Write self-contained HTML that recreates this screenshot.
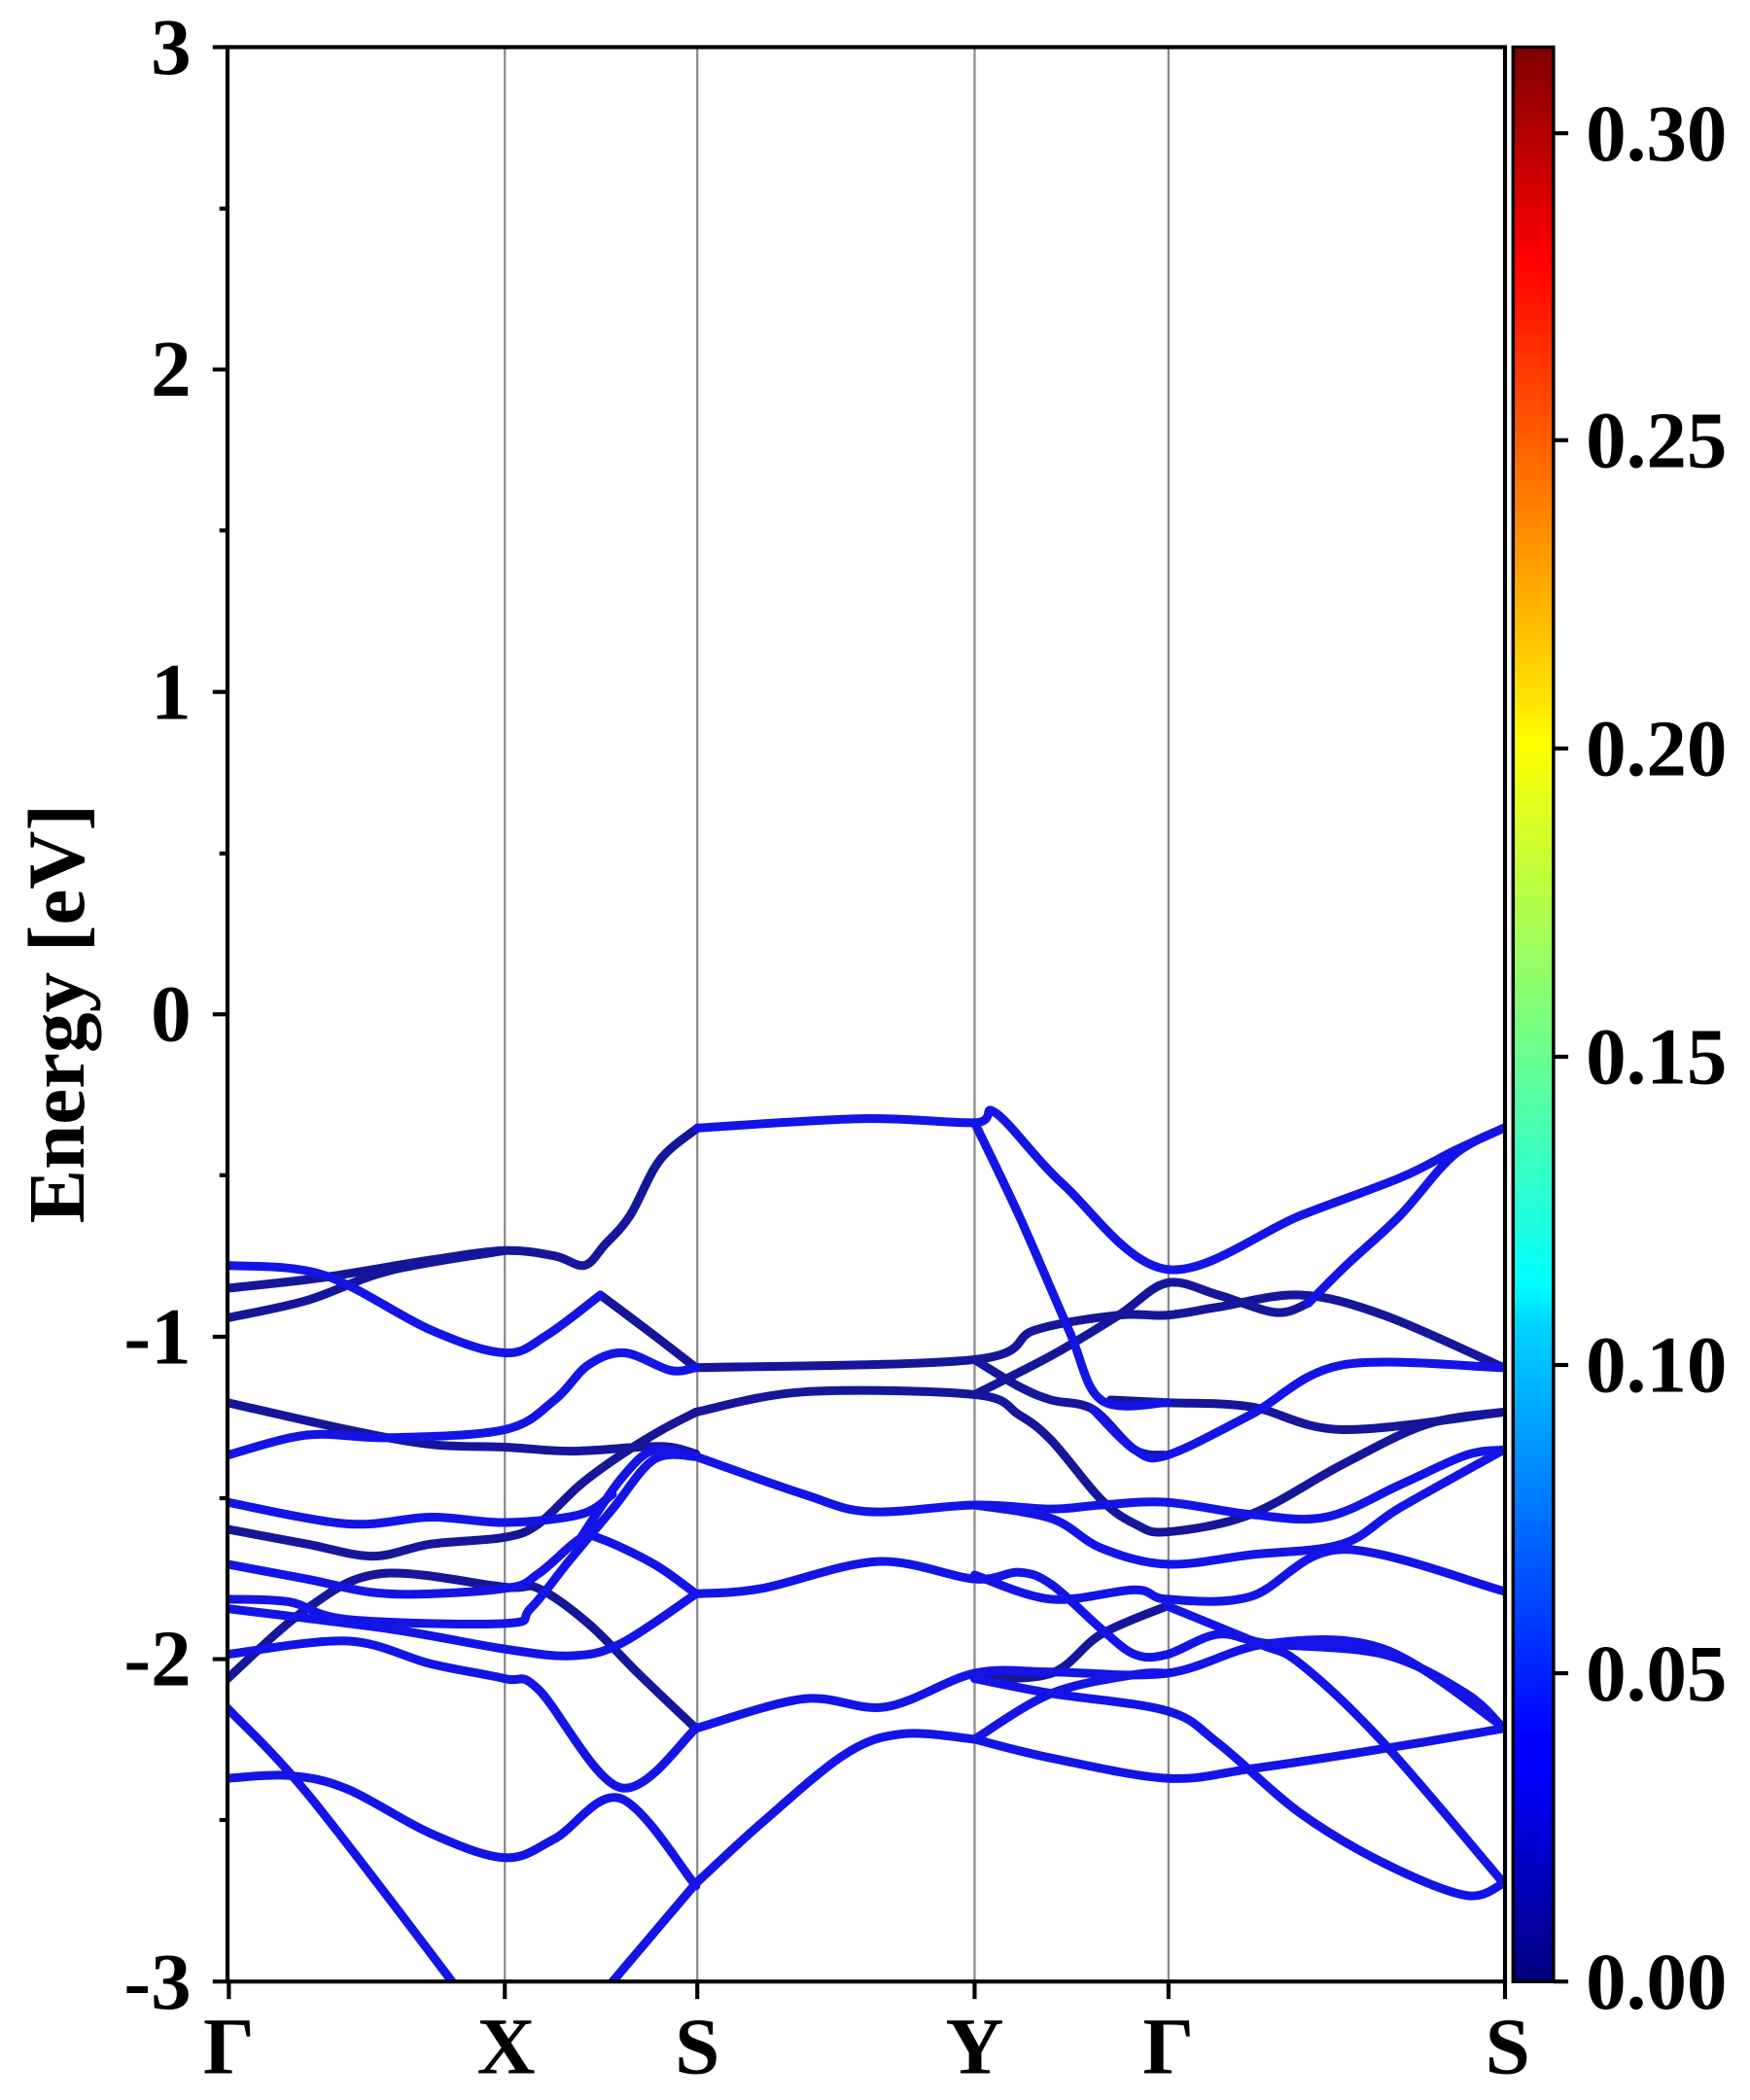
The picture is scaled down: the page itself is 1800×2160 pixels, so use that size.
<!DOCTYPE html>
<html><head><style>html,body{margin:0;padding:0;background:#fff}svg{display:block}</style></head>
<body>
<svg id="s" width="1800" height="2160" viewBox="0 0 1300 1560" xmlns="http://www.w3.org/2000/svg">
<defs>
<linearGradient id="jet" x1="0" y1="1" x2="0" y2="0">
<stop offset="0" stop-color="#00007f"/>
<stop offset="0.11" stop-color="#0000ff"/>
<stop offset="0.125" stop-color="#0000ff"/>
<stop offset="0.34" stop-color="#00d4ff"/>
<stop offset="0.36" stop-color="#0ff"/>
<stop offset="0.5" stop-color="#7dff7a"/>
<stop offset="0.64" stop-color="#ff0"/>
<stop offset="0.66" stop-color="#ffe600"/>
<stop offset="0.89" stop-color="#ff0000"/>
<stop offset="1" stop-color="#7f0000"/>
</linearGradient>
<clipPath id="c"><rect x="169" y="35" width="949" height="1437"/></clipPath>
</defs>
<rect width="1300" height="1560" fill="#fff"/>
<g stroke="#888" stroke-width="1.6">
<line x1="375" y1="35" x2="375" y2="1472"/><line x1="518" y1="35" x2="518" y2="1472"/>
<line x1="724" y1="35" x2="724" y2="1472"/><line x1="868" y1="35" x2="868" y2="1472"/>
</g>
<g id="bands" clip-path="url(#c)" fill="none" stroke-width="6.5" stroke-linejoin="round" stroke-linecap="round">
<g stroke="#16169a">
<polyline points="446,962 486,992 517,1016"/>
<polyline points="169,957 240,949 320,936 375,929 412,933 434,940 449,925 468,903 490,862 518,838"/>
<polyline points="169,979 228,966 289,944 375,929"/>
<polyline points="517,1016 724,1010 769,988 831,977 867,977 905,971 966,962 1028,977 1117,1016"/>
<polyline points="724,1036 781,1007 831,977 867,953 905,962 948,975 972,968"/>
<polyline points="825,1040 867,1042 929,1045 997,1062 1117,1049"/>
<polyline points="724,1010 757,1030 781,1040 812,1047 843,1077 867,1081"/>
<polyline points="517,1049 492,1062 461,1081 431,1103 400,1132 375,1142 320,1147 277,1156 228,1147 169,1136"/>
<polyline points="517,1049 597,1034 724,1036 757,1051 781,1070 818,1114 843,1132 867,1138 929,1125 997,1088 1060,1058 1117,1049"/>
<polyline points="169,1042 258,1062 320,1073 375,1075 424,1078 474,1075 498,1075 517,1080"/>
<polyline points="169,1247 228,1195 283,1169 375,1179 400,1180 437,1206 474,1243 517,1284"/>
<polyline points="867,1193 818,1214 781,1243 724,1247"/>
</g>
<g stroke="#1414e6">
<polyline points="169,940 240,947 320,988 375,1005 406,992 446,962"/>
<polyline points="518,838 640,831 724,834 740,827 790,880 867,943 966,903 1040,875 1080,855 1117,838"/>
<polyline points="724,834 757,903 794,988 818,1040 867,1042"/>
<polyline points="972,968 1000,940 1040,903 1080,858 1117,838"/>
<polyline points="169,1081 228,1066 289,1068 375,1062 412,1040 437,1014 464,1005 498,1018 517,1016"/>
<polyline points="812,1047 843,1077 867,1081 929,1051 997,1014 1117,1016"/>
<polyline points="431,1143 461,1099 486,1077 517,1082"/>
<polyline points="517,1082 597,1110 646,1123 724,1118 781,1121 818,1118 867,1116 929,1125 985,1127 1040,1103 1089,1081 1117,1077"/>
<polyline points="169,1116 258,1132 320,1127 375,1131 431,1125 455,1110"/>
<polyline points="169,1162 228,1173 289,1184 375,1180 400,1169 431,1143 446,1143 486,1162 517,1184"/>
<polyline points="169,1188 215,1190 258,1203 375,1206 394,1195 424,1158 455,1121 486,1084 517,1082"/>
<polyline points="169,1195 289,1210 375,1225 424,1230 461,1221 517,1184"/>
<polyline points="169,1229 258,1219 320,1236 375,1247 400,1255 461,1328 517,1284"/>
<polyline points="517,1184 566,1180 652,1160 724,1173 757,1168 781,1177 818,1210 843,1229 867,1229 905,1214 942,1221 1028,1229 1089,1258 1117,1284"/>
<polyline points="724,1170 781,1188 843,1181 867,1188 929,1186 997,1151 1117,1182"/>
<polyline points="867,1193 935,1221 966,1236 1028,1295 1117,1399"/>
<polyline points="724,1118 781,1128 818,1150 867,1162 929,1155 997,1147 1040,1120 1117,1077"/>
<polyline points="517,1284 597,1262 658,1268 724,1243 781,1242 867,1243 942,1221 1028,1225 1117,1283"/>
<polyline points="724,1247 781,1258 867,1271 905,1295 966,1347 1028,1384 1089,1408 1117,1399"/>
<polyline points="724,1292 781,1306 867,1321 929,1314 1028,1299 1117,1284"/>
<polyline points="724,1292 781,1258 843,1244 867,1243"/>
<polyline points="517,1399 566,1354 628,1303 671,1288 724,1292"/>
<polyline points="517,1399 461,1465 440,1490"/>
<polyline points="169,1269 228,1332 332,1467 340,1480"/>
<polyline points="169,1321 215,1319 258,1329 320,1362 375,1380 412,1366 461,1336 517,1401"/>
</g>
</g>
<g stroke="#000" stroke-width="3" fill="none">
<rect x="169" y="35" width="949" height="1437"/>
<line x1="158" y1="35" x2="169" y2="35"/><line x1="158" y1="274.5" x2="169" y2="274.5"/>
<line x1="158" y1="514" x2="169" y2="514"/><line x1="158" y1="753.5" x2="169" y2="753.5"/>
<line x1="158" y1="993" x2="169" y2="993"/><line x1="158" y1="1232.5" x2="169" y2="1232.5"/>
<line x1="158" y1="1472" x2="169" y2="1472"/>
<line x1="163" y1="155" x2="169" y2="155"/><line x1="163" y1="394" x2="169" y2="394"/>
<line x1="163" y1="634" x2="169" y2="634"/><line x1="163" y1="873" x2="169" y2="873"/>
<line x1="163" y1="1113" x2="169" y2="1113"/><line x1="163" y1="1352" x2="169" y2="1352"/>
<line x1="170" y1="1472" x2="170" y2="1485"/><line x1="375" y1="1472" x2="375" y2="1485"/>
<line x1="518" y1="1472" x2="518" y2="1485"/><line x1="724" y1="1472" x2="724" y2="1485"/>
<line x1="868" y1="1472" x2="868" y2="1485"/><line x1="1118" y1="1472" x2="1118" y2="1485"/>
</g>
<rect x="1124" y="35" width="30" height="1437" fill="url(#jet)" stroke="#000" stroke-width="2.5"/>
<g stroke="#000" stroke-width="3">
<line x1="1154" y1="1472" x2="1165" y2="1472"/><line x1="1154" y1="1243" x2="1165" y2="1243"/>
<line x1="1154" y1="1014" x2="1165" y2="1014"/><line x1="1154" y1="785" x2="1165" y2="785"/>
<line x1="1154" y1="556" x2="1165" y2="556"/><line x1="1154" y1="327" x2="1165" y2="327"/>
<line x1="1154" y1="99" x2="1165" y2="99"/>
</g>
<g font-family="'Liberation Serif',serif" font-weight="bold" font-size="60" fill="#000">
<g text-anchor="end">
<text x="142" y="55">3</text><text x="142" y="294">2</text><text x="142" y="534">1</text>
<text x="142" y="773">0</text><text x="142" y="1013">-1</text><text x="142" y="1252">-2</text>
<text x="142" y="1492">-3</text>
</g>
<g text-anchor="start">
<text x="1178" y="1492">0.00</text><text x="1178" y="1263">0.05</text><text x="1178" y="1034">0.10</text>
<text x="1178" y="805">0.15</text><text x="1178" y="576">0.20</text><text x="1178" y="347">0.25</text>
<text x="1178" y="119">0.30</text>
</g>
<g text-anchor="middle">
<text x="170" y="1540">Γ</text><text x="376" y="1540">X</text><text x="518" y="1540">S</text>
<text x="724" y="1540">Y</text><text x="868" y="1540">Γ</text><text x="1120" y="1540">S</text>
</g>
<text transform="translate(62,753) rotate(-90)" text-anchor="middle">Energy [eV]</text>
</g>
</svg>
<script>
(function(){
var NS="http://www.w3.org/2000/svg";
var pls=document.querySelectorAll('#bands polyline');
for(var k=0;k<pls.length;k++){
 var pl=pls[k];
 var p=pl.getAttribute('points').trim().split(/\s+/).map(function(s){return s.split(',').map(Number);});
 var d='M'+p[0][0]+','+p[0][1];
 for(var i=0;i<p.length-1;i++){
  var p0=p[i-1]||p[i],p1=p[i],p2=p[i+1],p3=p[i+2]||p2;
  var c1=[p1[0]+(p2[0]-p0[0])/6,p1[1]+(p2[1]-p0[1])/6];
  var c2=[p2[0]-(p3[0]-p1[0])/6,p2[1]-(p3[1]-p1[1])/6];
  d+=' C'+c1[0].toFixed(1)+','+c1[1].toFixed(1)+' '+c2[0].toFixed(1)+','+c2[1].toFixed(1)+' '+p2[0]+','+p2[1];
 }
 var path=document.createElementNS(NS,'path');
 path.setAttribute('d',d);
 pl.parentNode.replaceChild(path,pl);
}
})();
</script>
</body></html>
